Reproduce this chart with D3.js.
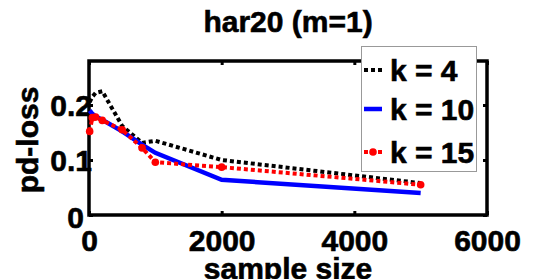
<!DOCTYPE html>
<html>
<head>
<meta charset="utf-8">
<script src="https://cdn.jsdelivr.net/npm/d3@7"></script>
<style>
  html, body { margin: 0; padding: 0; background: #fff; }
  svg { display: block; font-family: "Liberation Sans", Arial, sans-serif; font-weight: bold; }
  .lbl { fill: #000; stroke: #000; stroke-width: 0.6px; }
</style>
</head>
<body>
<svg id="viz_area" width="538" height="279"></svg>
<script>
// sample sizes shared by all three curves
const sampleSizes = [10, 50, 100, 200, 500, 800, 1000, 2000, 5000];
const lossK4  = [0.205, 0.215, 0.222, 0.225, 0.162, 0.131, 0.135, 0.100, 0.058];
const lossK10 = [0.190, 0.184, 0.179, 0.173, 0.152, 0.128, 0.113, 0.064, 0.040];
const lossK15 = [0.152, 0.177, 0.178, 0.172, 0.155, 0.122, 0.096, 0.087, 0.055];
const seriesNames = ["k = 4", "k = 10", "k = 15"];
const xTicks = [0, 2000, 4000, 6000];
const yTicks = [0, 0.1, 0.2];

const run = () => {
    const svg = d3.select("#viz_area");
    const left = 89, right = 487, top = 61, bottom = 215;
    const fs = "30px";

    const x = d3.scaleLinear().domain([0, 6000]).range([left, right]);
    const y = d3.scaleLinear().domain([0, 0.28]).range([bottom, top]);

    // title
    svg.append("text")
        .attr("class", "lbl")
        .attr("x", 288).attr("y", 32)
        .attr("text-anchor", "middle")
        .style("font-size", fs)
        .text("har20 (m=1)");

    // x axis (ticks inward, labels below)
    const xAxis = svg.append("g")
        .attr("transform", "translate(0," + bottom + ")")
        .call(d3.axisBottom(x).tickValues(xTicks).tickSize(-4).tickFormat(d3.format("d")));
    xAxis.selectAll("text")
        .attr("class", "lbl")
        .attr("y", 15)
        .style("font-size", fs)
        .style("font-family", "Liberation Sans, Arial, sans-serif")
        .style("font-weight", "bold");

    // y axis
    const yAxis = svg.append("g")
        .attr("transform", "translate(" + left + ",0)")
        .call(d3.axisLeft(y).tickValues(yTicks).tickSize(-4).tickFormat(d => d === 0 ? "0" : d3.format(".1f")(d)));
    yAxis.selectAll("text")
        .attr("class", "lbl")
        .attr("x", d => d === 0 ? -5 : 3)
        .attr("dy", d => d === 0 ? "0.4em" : "0.36em")
        .style("font-size", fs)
        .style("font-family", "Liberation Sans, Arial, sans-serif")
        .style("font-weight", "bold");

    // ticks on top and right side
    svg.append("g")
        .attr("transform", "translate(0," + top + ")")
        .call(d3.axisTop(x).tickValues(xTicks).tickSize(-4).tickFormat(""));
    svg.append("g")
        .attr("transform", "translate(" + right + ",0)")
        .call(d3.axisRight(y).tickValues(yTicks).tickSize(-4).tickFormat(""));

    svg.selectAll(".domain").remove();
    svg.selectAll(".tick line").attr("stroke", "#000").attr("stroke-width", 3);

    // frame
    svg.append("rect")
        .attr("x", left).attr("y", top)
        .attr("width", right - left).attr("height", bottom - top)
        .attr("fill", "none").attr("stroke", "#000").attr("stroke-width", 3.5);

    // axis labels
    svg.append("text")
        .attr("class", "lbl")
        .attr("x", 288).attr("y", 279)
        .attr("text-anchor", "middle")
        .style("font-size", fs)
        .text("sample size");
    svg.append("text")
        .attr("class", "lbl")
        .attr("transform", "translate(38,140) rotate(-90)")
        .attr("text-anchor", "middle")
        .style("font-size", fs)
        .text("pd-loss");

    const line = d3.line()
        .x((d, i) => x(sampleSizes[i]))
        .y(d => y(d));

    // k = 4 : black dotted
    svg.append("path").datum(lossK4)
        .attr("d", line)
        .attr("fill", "none").attr("stroke", "#000")
        .attr("stroke-width", 4).attr("stroke-dasharray", "4,3");

    // k = 10 : blue solid
    svg.append("path").datum(lossK10)
        .attr("d", line)
        .attr("fill", "none").attr("stroke", "#0000ff")
        .attr("stroke-width", 4.5);

    // k = 15 : red dotted with dots
    svg.append("path").datum(lossK15)
        .attr("d", line)
        .attr("fill", "none").attr("stroke", "#ff0000")
        .attr("stroke-width", 4).attr("stroke-dasharray", "4,3");
    svg.selectAll("circle.k15").data(lossK15).enter()
        .append("circle")
        .attr("class", "k15")
        .attr("cx", (d, i) => x(sampleSizes[i]))
        .attr("cy", d => y(d))
        .attr("r", 3.8)
        .attr("fill", "#ff0000");

    // legend
    const lg = svg.append("g");
    lg.append("rect")
        .attr("x", 361.5).attr("y", 46.5)
        .attr("width", 115).attr("height", 125)
        .attr("fill", "#fff").attr("stroke", "#999").attr("stroke-width", 1);

    const rowY = [70, 109, 152];
    const styles = [
        {color: "#000", dash: "4,3", width: 4, dot: false},
        {color: "#0000ff", dash: null, width: 4.5, dot: false},
        {color: "#ff0000", dash: "4,3", width: 4, dot: true}
    ];
    seriesNames.forEach((name, i) => {
        const s = styles[i];
        lg.append("line")
            .attr("x1", 364).attr("x2", 382)
            .attr("y1", rowY[i]).attr("y2", rowY[i])
            .attr("stroke", s.color).attr("stroke-width", s.width)
            .attr("stroke-dasharray", s.dash);
        if (s.dot) {
            lg.append("circle")
                .attr("cx", 373).attr("cy", rowY[i]).attr("r", 3.8)
                .attr("fill", s.color);
        }
        lg.append("text")
            .attr("class", "lbl")
            .attr("x", 390).attr("y", rowY[i] + 11)
            .style("font-size", fs)
            .text(name);
    });
};
window.onload = run;
</script>
</body>
</html>
